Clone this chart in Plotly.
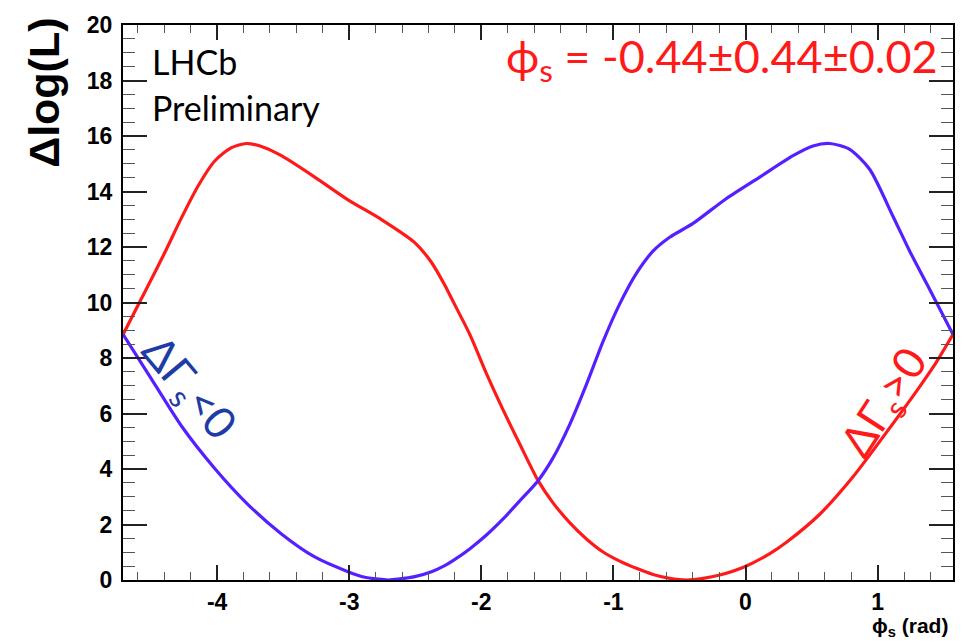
import numpy as np
import plotly.graph_objects as go

# Red curve: Delta Gamma_s > 0
phi_red = [-4.712, -4.523, -4.396, -4.270, -4.144, -4.018, -3.891, -3.778, -3.639, -3.513,
           -3.261, -3.009, -2.756, -2.504, -2.378, -2.277, -2.214, -2.088, -1.961, -1.836,
           -1.709, -1.570, -1.457, -1.331, -1.204, -1.078, -0.952, -0.826, -0.700, -0.574,
           -0.447, -0.320, -0.195, -0.006, 0.184, 0.310, 0.562, 0.814, 1.067, 1.319, 1.445, 1.571]
dll_red = [8.85, 10.6, 11.8, 13.05, 14.2, 15.1, 15.58, 15.73, 15.58, 15.29,
           14.52, 13.70, 12.99, 12.16, 11.45, 10.63, 10.04, 8.86, 7.44, 6.14,
           4.90, 3.58, 2.78, 2.07, 1.48, 1.01, 0.68, 0.42, 0.20, 0.06,
           0.0, 0.06, 0.18, 0.48, 0.95, 1.36, 2.37, 3.72, 5.32, 6.97, 7.85, 8.85]

# Blue curve: Delta Gamma_s < 0
phi_blue = [-4.712, -4.523, -4.270, -4.018, -3.766, -3.513, -3.261, -3.009, -2.882, -2.756,
            -2.700, -2.630, -2.504, -2.377, -2.277, -2.214, -2.088, -1.961, -1.835, -1.709,
            -1.570, -1.457, -1.331, -1.204, -1.078, -0.952, -0.826, -0.700, -0.574, -0.397,
            -0.144, 0.108, 0.360, 0.511, 0.638, 0.789, 0.940, 1.117, 1.243, 1.369, 1.571]
dll_blue = [8.85, 7.44, 5.55, 4.02, 2.72, 1.66, 0.83, 0.30, 0.10, 0.02,
            0.0, 0.03, 0.12, 0.30, 0.52, 0.70, 1.12, 1.62, 2.20, 2.85,
            3.58, 4.40, 5.60, 7.05, 8.60, 9.95, 11.05, 11.85, 12.35, 12.85,
            13.75, 14.52, 15.29, 15.64, 15.73, 15.52, 14.8, 13.1, 11.85, 10.7, 8.85]

x_ticks = [-4, -3, -2, -1, 0, 1]
x_ticktext = ["-4", "-3", "-2", "-1", "0", "1"]
y_ticks = [0, 2, 4, 6, 8, 10, 12, 14, 16, 18, 20]
x_range = [-3 * np.pi / 2, np.pi / 2]
y_range = [0, 20]

W, H = 967, 643
L, R, T, B = 123, 14, 15, 63
PW, PH = W - L - R, H - T - B


def px(xp):
    return (xp - L) / PW


def py(yp):
    return (H - B - yp) / PH


fig = go.Figure()
fig.add_trace(go.Scatter(x=phi_red, y=dll_red, mode="lines",
                         line=dict(color="#ff1a1a", width=3.2, shape="spline", smoothing=0.7),
                         showlegend=False, hoverinfo="skip"))
fig.add_trace(go.Scatter(x=phi_blue, y=dll_blue, mode="lines",
                         line=dict(color="#5520ff", width=3.2, shape="spline", smoothing=0.7),
                         showlegend=False, hoverinfo="skip"))
# invisible trace to activate mirrored axes
fig.add_trace(go.Scatter(x=[x_range[0]], y=[y_range[0]], xaxis="x2", yaxis="y2",
                         mode="markers", marker=dict(opacity=0), showlegend=False,
                         hoverinfo="skip"))

tickfont = dict(family="Liberation Sans", size=23, color="black", weight="bold")
tick_col = "#222"
minor_col = "#555"

fig.update_layout(
    width=W, height=H,
    margin=dict(l=L, r=R, t=T, b=B),
    paper_bgcolor="white", plot_bgcolor="white",
    xaxis=dict(range=x_range, tickvals=x_ticks, ticktext=x_ticktext,
               ticks="inside", ticklen=15, tickwidth=1.6, tickcolor=tick_col,
               minor=dict(dtick=0.2, tick0=0, ticks="inside", ticklen=8,
                          tickwidth=1.4, tickcolor=minor_col),
               showline=True, linewidth=2, linecolor="black", mirror=True,
               showgrid=False, zeroline=False, tickfont=tickfont, ticklabelstandoff=0),
    xaxis2=dict(range=x_range, overlaying="x", side="top", tickvals=x_ticks,
                ticks="inside", ticklen=15, tickwidth=1.6, tickcolor=tick_col,
                minor=dict(dtick=0.2, tick0=0, ticks="inside", ticklen=8,
                           tickwidth=1.4, tickcolor=minor_col),
                showticklabels=False, showgrid=False, zeroline=False, showline=False),
    yaxis=dict(range=y_range, tickvals=y_ticks,
               ticks="inside", ticklen=24, tickwidth=1.6, tickcolor=tick_col,
               minor=dict(dtick=0.5, tick0=0, ticks="inside", ticklen=12,
                          tickwidth=1.4, tickcolor=minor_col),
               showline=True, linewidth=2, linecolor="black", mirror=True,
               showgrid=False, zeroline=False, tickfont=tickfont, ticklabelstandoff=4),
    yaxis2=dict(range=y_range, overlaying="y", side="right", tickvals=y_ticks,
                ticks="inside", ticklen=24, tickwidth=1.6, tickcolor=tick_col,
                minor=dict(dtick=0.5, tick0=0, ticks="inside", ticklen=12,
                           tickwidth=1.4, tickcolor=minor_col),
                showticklabels=False, showgrid=False, zeroline=False, showline=False),
)

ann = [
    dict(text="Δlog(L)", x=px(44), y=py(84), textangle=-90,
         font=dict(family="Liberation Sans", size=43, color="black", weight="bold"),
         xanchor="center", yanchor="middle"),
    dict(text="LHCb", x=px(150), y=py(52), xanchor="left", yanchor="middle",
         font=dict(family="Lato", size=34, color="black")),
    dict(text="Preliminary", x=px(150), y=py(99), xanchor="left", yanchor="middle",
         font=dict(family="Lato", size=34, color="black")),
    dict(text="ϕ<sub>s</sub> = -0.44±0.44±0.02", x=px(940), y=py(50),
         xanchor="right", yanchor="middle",
         font=dict(family="Lato", size=45, color="#ff1a1a")),
    dict(text="ΔΓ<sub>s</sub><0", x=px(188), y=py(385), textangle=50,
         xanchor="center", yanchor="middle",
         font=dict(family="Lato", size=44, color="#1f3ca6")),
    dict(text="ΔΓ<sub>s</sub>>0", x=px(885), y=py(400), textangle=-57,
         xanchor="center", yanchor="middle",
         font=dict(family="Lato", size=44, color="#ff1a1a")),
    dict(text="ϕ<sub>s</sub> (rad)", x=px(950), y=py(628), xanchor="right", yanchor="middle",
         font=dict(family="Liberation Sans", size=21, color="black", weight="bold")),
]
for a in ann:
    a.update(xref="paper", yref="paper", showarrow=False)
fig.update_layout(annotations=ann)

fig.write_html("out.html")
